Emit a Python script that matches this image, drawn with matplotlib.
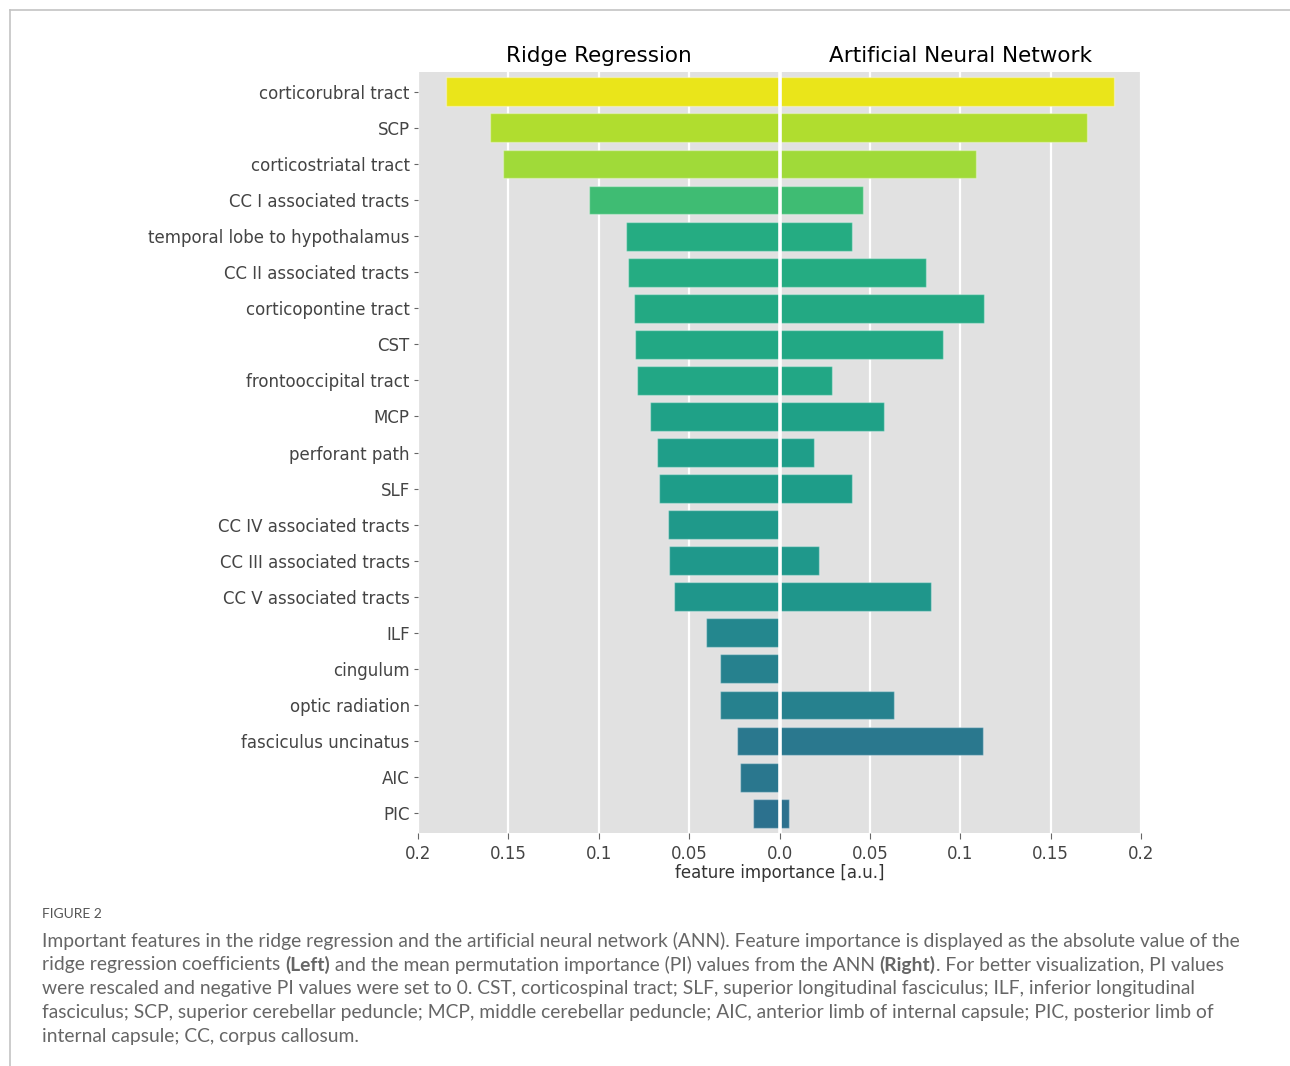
import matplotlib
matplotlib.use("Agg")
import matplotlib.pyplot as plt
from matplotlib.lines import Line2D
import numpy as np

# data
tracts = ["corticorubral tract", "SCP", "corticostriatal tract", "CC I associated tracts",
          "temporal lobe to hypothalamus", "CC II associated tracts", "corticopontine tract",
          "CST", "frontooccipital tract", "MCP", "perforant path", "SLF",
          "CC IV associated tracts", "CC III associated tracts", "CC V associated tracts",
          "ILF", "cingulum", "optic radiation", "fasciculus uncinatus", "AIC", "PIC"]
ridge = [0.1845, 0.160, 0.153, 0.1054, 0.0849, 0.0838, 0.0805, 0.0800, 0.0788, 0.0716,
         0.0678, 0.0667, 0.0617, 0.0611, 0.0584, 0.0407, 0.0329, 0.0329, 0.0235, 0.0219, 0.0147]
ann = [0.185, 0.170, 0.1087, 0.0462, 0.0401, 0.0810, 0.1131, 0.0905, 0.0290, 0.0578,
       0.0191, 0.0401, 0.0, 0.0218, 0.0838, 0.0, 0.0, 0.0634, 0.1126, 0.0, 0.0053]
xticks = [-0.2, -0.15, -0.1, -0.05, 0.0, 0.05, 0.1, 0.15, 0.2]
xticklabels = ["0.2", "0.15", "0.1", "0.05", "0.0", "0.05", "0.1", "0.15", "0.2"]

caption_lines = [
    [("Important features in the ridge regression and the artificial neural network (ANN). Feature importance is displayed as the absolute value of the", "normal")],
    [("ridge regression coefficients ", "normal"), ("(Left)", "bold"),
     (" and the mean permutation importance (PI) values from the ANN ", "normal"), ("(Right)", "bold"),
     (". For better visualization, PI values", "normal")],
    [("were rescaled and negative PI values were set to 0. CST, corticospinal tract; SLF, superior longitudinal fasciculus; ILF, inferior longitudinal", "normal")],
    [("fasciculus; SCP, superior cerebellar peduncle; MCP, middle cerebellar peduncle; AIC, anterior limb of internal capsule; PIC, posterior limb of", "normal")],
    [("internal capsule; CC, corpus callosum.", "normal")],
]

W, H = 1290, 1066
fig = plt.figure(figsize=(W / 100, H / 100), dpi=100)
fig.patch.set_facecolor("white")

# page frame lines
fig.add_artist(Line2D([10 / W, 1], [1 - 10 / H, 1 - 10 / H], color="#c4c4c4", lw=1.2))
fig.add_artist(Line2D([10 / W, 10 / W], [0, 1 - 10 / H], color="#c4c4c4", lw=1.2))

ax = fig.add_axes([418 / W, 1 - 833 / H, 723 / W, 761 / H])
ax.set_facecolor("#e1e1e1")
for s in ax.spines.values():
    s.set_visible(False)

cmap = plt.get_cmap("viridis")
cols = [cmap(0.32 + 3.5 * v) for v in ridge]
y = np.arange(len(tracts))

ax.barh(y, [-v for v in ridge], height=0.8, color=cols,
        edgecolor=(1, 1, 1, 0.35), linewidth=1.0, zorder=2)
ax.barh(y, ann, height=0.8, color=cols,
        edgecolor=(1, 1, 1, 0.35), linewidth=1.0, zorder=2)

for t in xticks:
    ax.axvline(t, color="white", lw=1.6, zorder=1)
ax.axvline(0, color="white", lw=2.6, zorder=3)

ax.set_xlim(-0.2, 0.2)
ax.set_ylim(len(tracts) - 1 + 0.55, -0.55)
ax.set_yticks(y)
ax.set_yticklabels(tracts, fontsize=12, color="#444444")
ax.set_xticks(xticks)
ax.set_xticklabels(xticklabels, fontsize=12, color="#444444")
ax.tick_params(axis="y", length=3, width=0.8, color="#666666", pad=3)
ax.tick_params(axis="x", length=4, width=0.8, color="#666666", pad=4.5)
ax.set_xlabel("feature importance [a.u.]", fontsize=12, color="#333333", labelpad=1)

ax.text(0.25, 1.008, "Ridge Regression", transform=ax.transAxes, ha="center", va="bottom",
        fontsize=15.5, color="black")
ax.text(0.75, 1.008, "Artificial Neural Network", transform=ax.transAxes, ha="center", va="bottom",
        fontsize=15.5, color="black")

# caption
fig.text(42 / W, 1 - 914 / H, "FIGURE 2", family="Lato", fontsize=10, color="#555555",
         va="center")
renderer = fig.canvas.get_renderer()
for i, line in enumerate(caption_lines):
    xpos = 42 / W
    ypos = 1 - (941 + i * 23.8) / H
    for txt, wt in line:
        t = fig.text(xpos, ypos, txt, family="Lato", fontsize=13.9, weight=wt,
                     color="#666666", va="center")
        bb = t.get_window_extent(renderer=renderer)
        xpos += bb.width / W

fig.savefig("out.png", dpi=100)
